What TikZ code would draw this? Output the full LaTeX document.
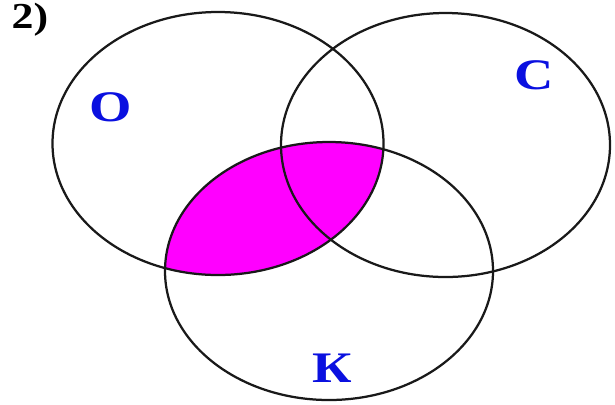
\documentclass[tikz,border=0pt]{standalone}
\usepackage{fontspec}
\setmainfont{Liberation Serif}
\usetikzlibrary{positioning}
\definecolor{letterblue}{HTML}{0A10E0}
\definecolor{shademagenta}{HTML}{FF00FF}

\begin{document}
\begin{tikzpicture}[x=0.025cm, y=-0.025cm,
    setline/.style={line width=1.6pt, black!90},
    setlabel/.style={text=letterblue, inner sep=0pt, xscale=1.25,
      font=\fontsize{31}{31}\selectfont\bfseries}]
  \useasboundingbox (0,0) rectangle (615,404);

  % Центры множеств
  \coordinate (cO) at (218,143.5);
  \coordinate (cC) at (445.5,145);
  \coordinate (cK) at (329,271);

  % Закрашенная область: О и К
  \begin{scope}
    \clip (cO) ellipse [x radius=165.5, y radius=131.5];
    \fill[shademagenta] (cK) ellipse [x radius=164, y radius=129];
  \end{scope}

  % Круги
  \draw[setline] (cO) ellipse [x radius=165.5, y radius=131.5];
  \draw[setline] (cC) ellipse [x radius=164.5, y radius=132];
  \draw[setline] (cK) ellipse [x radius=164, y radius=129];

  % Подписи
  \node[setlabel] (lblO) at (111,107.5) {О};
  \node[setlabel] (lblC) at (534.5,75) {С};
  \node[setlabel] (lblK) at (332,368) {К};

  % Номер задания
  \node[inner sep=0pt, xscale=1.2, font=\fontsize{26}{26}\selectfont\bfseries]
    (num) at (30,20) {2)};
\end{tikzpicture}
\end{document}
